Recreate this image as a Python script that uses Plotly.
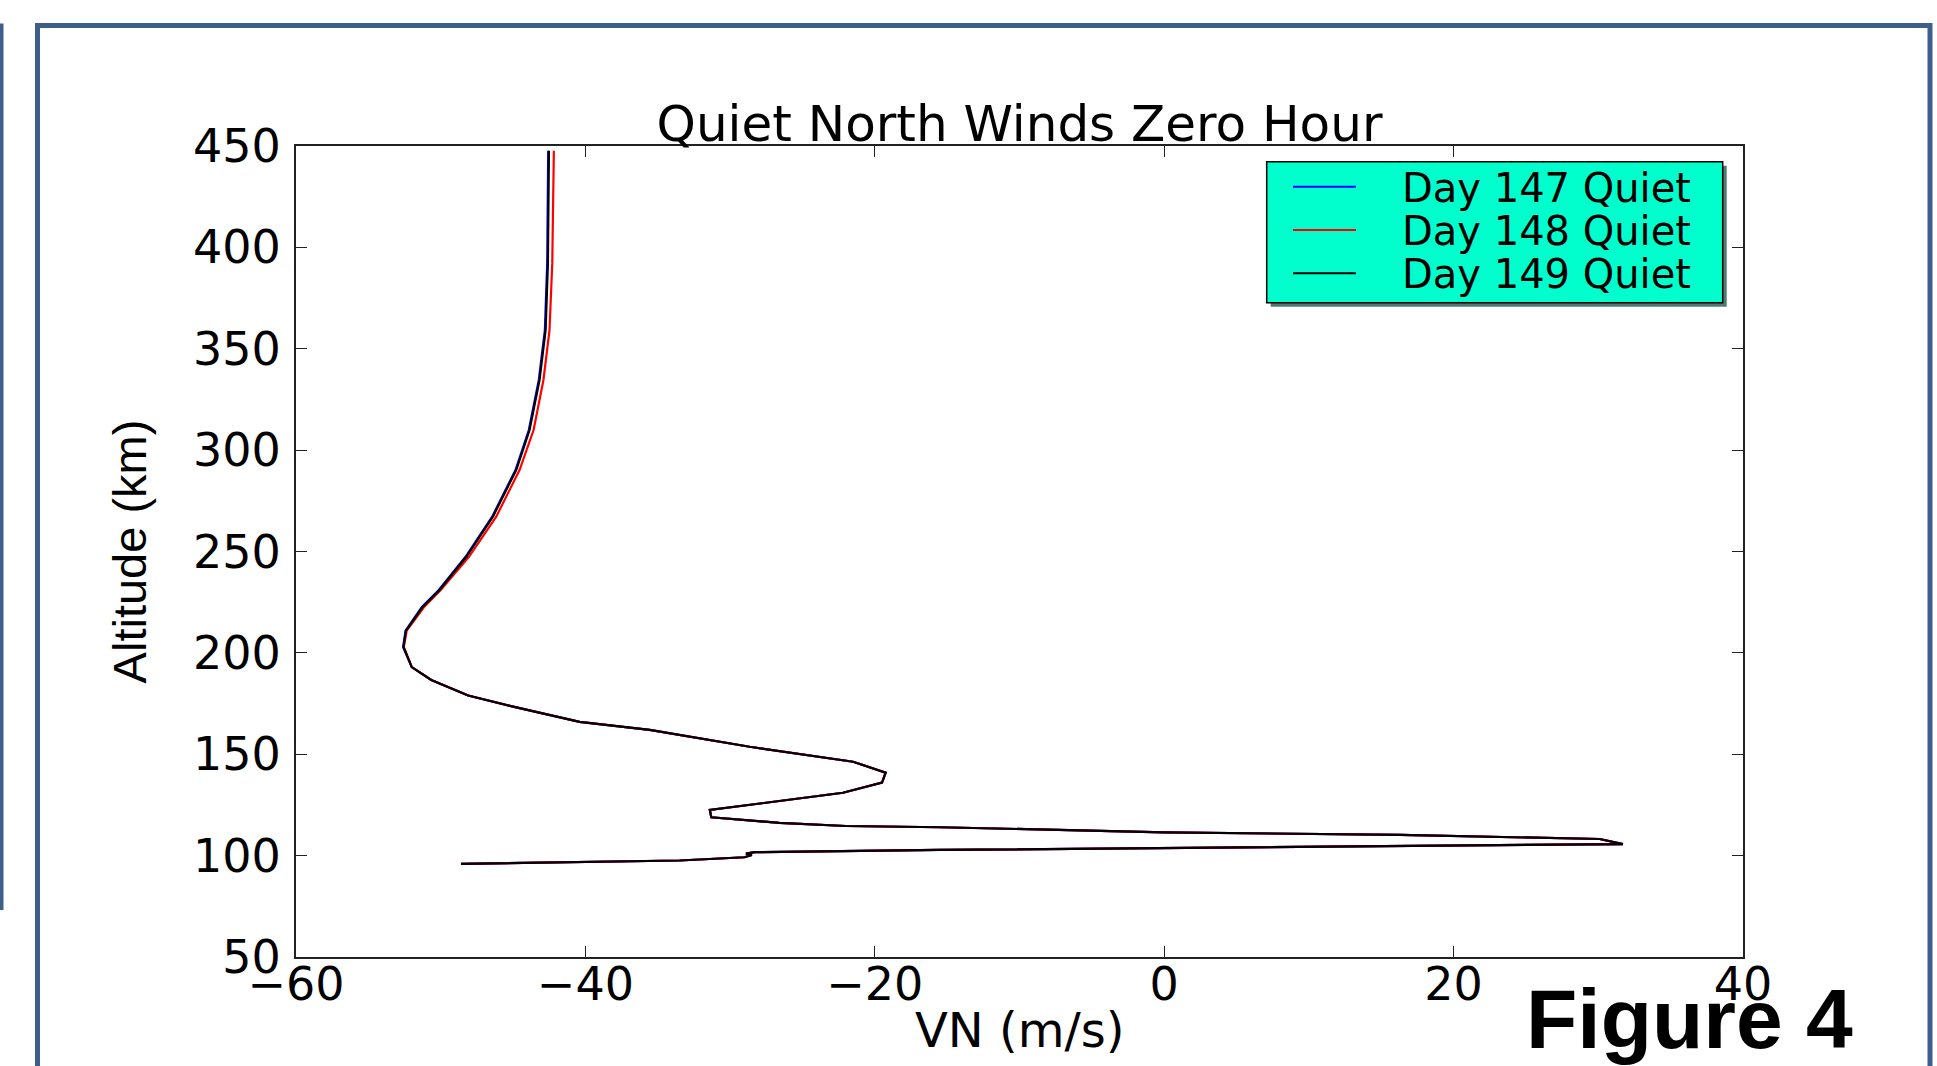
import plotly.graph_objects as go

# ---------------- data ----------------
altitude_km = [95.9, 97.6, 99.2, 100.3, 101.0, 101.7, 102.8, 104.7, 105.7, 108.2,
               109.3, 110.2, 111.5, 114.0, 114.6, 116.2, 118.9, 122.5, 131.0, 136.0,
               140.9, 146.3, 153.7, 159.5, 162.0, 166.0, 173.5, 179.0, 186.6, 193.0,
               202.9, 211.0, 222.6, 231.0, 247.4, 267.2, 290.2, 309.9, 334.6, 359.2,
               392.1, 447.7]

vn_day149 = [-48.6, -33.5, -29.0, -28.5, -28.9, -28.3, -15.5, 16.3, 31.7, 30.1,
             23.2, 16.3, 0.0, -15.5, -22.0, -26.6, -31.3, -31.4, -22.2, -19.5,
             -19.25, -21.5, -28.65, -33.5, -35.56, -40.4, -45.0, -48.1, -50.65, -52.0,
             -52.57, -52.4, -51.25, -50.08, -48.23, -46.39, -44.78, -43.86, -43.17, -42.75,
             -42.59, -42.52]

vn_day148 = [-48.6, -33.5, -29.0, -28.5, -28.9, -28.3, -15.5, 16.3, 31.7, 30.1,
             23.2, 16.3, 0.0, -15.5, -22.0, -26.6, -31.3, -31.4, -22.2, -19.5,
             -19.25, -21.5, -28.65, -33.5, -35.56, -40.4, -45.0, -48.1, -50.65, -52.0,
             -52.55, -52.35, -51.15, -50.0, -48.05, -46.16, -44.55, -43.58, -42.9, -42.48,
             -42.29, -42.18]

vn_day147 = [-48.6, -33.5, -29.0, -28.5, -28.9, -28.3, -15.5, 16.3, 31.7, 30.1,
             23.2, 16.3, 0.0, -15.5, -22.0, -26.6, -31.3, -31.4, -22.2, -19.5,
             -19.25, -21.5, -28.65, -33.5, -35.56, -40.4, -45.0, -48.1, -50.65, -52.0,
             -52.6, -52.43, -51.3, -50.13, -48.28, -46.44, -44.83, -43.91, -43.22, -42.8,
             -42.64, -42.57]

series_names = ["Day 147 Quiet", "Day 148 Quiet", "Day 149 Quiet"]
series_colors = ["#0000ff", "#ff0000", "#000000"]

x_ticks = [-60, -40, -20, 0, 20, 40]
y_ticks = [50, 100, 150, 200, 250, 300, 350, 400, 450]

# ---------------- layout geometry (pixels) ----------------
W, H = 1937, 1066
PL, PR, PT, PB = 296, 1743, 146, 957


def px(xp):
    return (xp - PL) / (PR - PL)


def py(yp):
    return (PB - yp) / (PB - PT)


FONT = "DejaVu Sans"

fig = go.Figure()
for name, color, vals in zip(series_names, series_colors, [vn_day147, vn_day148, vn_day149]):
    fig.add_trace(go.Scatter(x=vals, y=altitude_km, mode="lines", name=name,
                             line=dict(color=color, width=2.2)))

axis_common = dict(showgrid=False, zeroline=False, showline=True, linecolor="#222",
                   linewidth=2, mirror="ticks", ticks="inside", ticklen=11,
                   tickwidth=1.2, tickcolor="#222",
                   tickfont=dict(family=FONT, size=46, color="black"))

fig.update_xaxes(range=[-60, 40], tickvals=x_ticks, **axis_common,
                 ticklabelstandoff=-14)
fig.update_yaxes(range=[50, 450], tickvals=y_ticks, **axis_common,
                 ticklabelstandoff=4,
                 title=dict(text="Altitude (km)", font=dict(family="Liberation Sans", size=47,
                                                            color="black"),
                            standoff=32))

border = "#3c5f8c"
shapes = [
    # outer slide frame
    dict(type="rect", xref="paper", yref="paper", x0=px(37.5), x1=px(1930), y0=py(1120), y1=py(25.5),
         line=dict(color=border, width=5), fillcolor="rgba(0,0,0,0)", layer="below"),
    # neighbouring frame edge on the far left
    dict(type="rect", xref="paper", yref="paper", x0=px(-60), x1=px(1.5), y0=py(908), y1=py(25.5),
         line=dict(color=border, width=4), fillcolor="rgba(0,0,0,0)", layer="below"),
]

# legend (drawn as a boxed key with drop shadow, as in the reference)
LEG_L, LEG_R, LEG_T, LEG_B = 1266.7, 1722.7, 161.7, 302.7
row_y = [186.7, 230.0, 273.3]
shapes.append(dict(type="rect", xref="paper", yref="paper",
                   x0=px(LEG_L + 4), x1=px(LEG_R + 4), y0=py(LEG_B + 4), y1=py(LEG_T + 4),
                   line=dict(width=0), fillcolor="#4f7a72", layer="above"))
shapes.append(dict(type="rect", xref="paper", yref="paper",
                   x0=px(LEG_L), x1=px(LEG_R), y0=py(LEG_B), y1=py(LEG_T),
                   line=dict(width=1.5, color="black"), fillcolor="#00ffcc", layer="above"))
annotations = []
for name, color, ry in zip(series_names, series_colors, row_y):
    shapes.append(dict(type="line", xref="paper", yref="paper",
                       x0=px(1293), x1=px(1356), y0=py(ry), y1=py(ry),
                       line=dict(color=color, width=2), layer="above"))
    annotations.append(dict(text=name, xref="paper", yref="paper", x=px(1400), y=py(ry + 1),
                            xanchor="left", yanchor="middle", showarrow=False,
                            font=dict(family=FONT, size=40, color="black")))

# x-axis title
annotations.append(dict(text="VN (m/s)", xref="paper", yref="paper",
                        x=px(1019.5), y=py(1030), xanchor="center", yanchor="middle",
                        showarrow=False, font=dict(family=FONT, size=48, color="black")))

annotations.append(dict(text="<b>Figure 4</b>", xref="paper", yref="paper",
                        x=px(1524), y=py(1019), xanchor="left", yanchor="middle",
                        showarrow=False,
                        font=dict(family="Liberation Sans", size=84, color="black")))

fig.update_layout(
    width=W, height=H,
    margin=dict(l=PL, r=W - PR, t=PT, b=H - PB, pad=0),
    plot_bgcolor="white", paper_bgcolor="white",
    font=dict(family=FONT, color="black"),
    showlegend=False,
    title=dict(text="Quiet North Winds Zero Hour", x=px(1019.5), xref="paper",
               y=1 - 123 / H, yref="container", xanchor="center", yanchor="middle",
               font=dict(family=FONT, size=50, color="black")),
    shapes=shapes,
    annotations=annotations,
)

fig.write_html("out.html", config={"displayModeBar": False},
               post_script="document.body.style.margin='0px';")
